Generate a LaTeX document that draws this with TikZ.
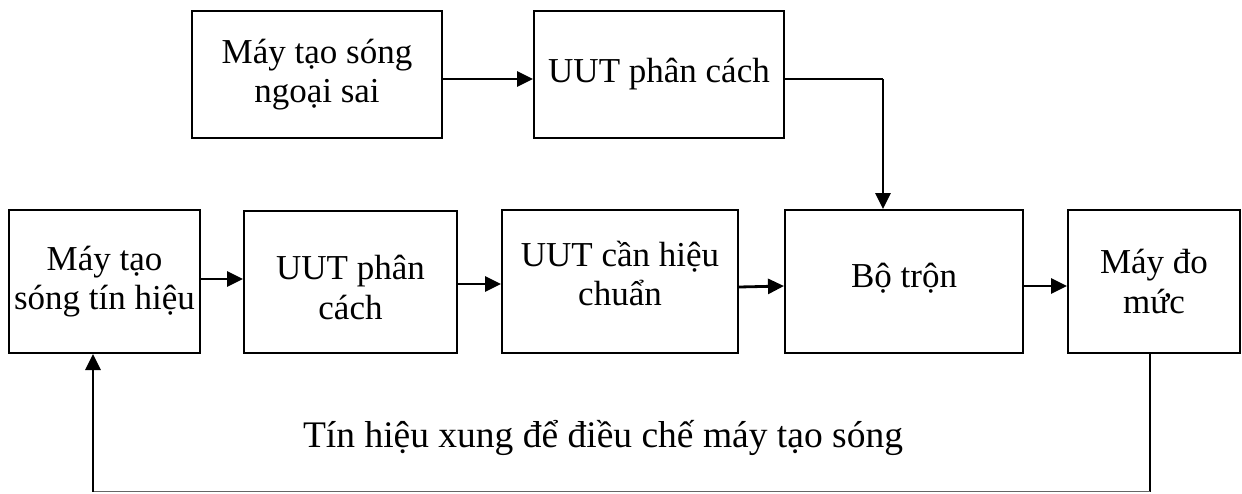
\documentclass[tikz,border=0pt]{standalone}
\usepackage{fontspec}
\setmainfont{Liberation Serif}
\usetikzlibrary{arrows.meta}
\tikzset{
  box/.style={draw=black, line width=2pt, align=center, inner sep=0pt,
    font=\fontsize{35}{39.5}\selectfont},
  boxtext/.style={align=center, inner sep=0pt, font=\fontsize{35}{39.5}\selectfont},
  arr/.style={line width=2.8pt, -{Triangle[length=16pt,width=15pt]}},
  wire/.style={line width=1.8pt},
  lbl/.style={font=\fontsize{37.5}{42}\selectfont, inner sep=0pt}
}
\begin{document}
\begin{tikzpicture}[x=1pt,y=-1pt]
\useasboundingbox (0,0) rectangle (1242,493);
% upper row
\node[box, minimum width=250pt, minimum height=127pt] (lo) at (317,74.5) {Máy tạo sóng\\ngoại sai};
\node[box, minimum width=250pt, minimum height=127pt] (iso1) at (659,74.5) {UUT phân cách};
% lower row
\node[box, minimum width=191pt, minimum height=143pt] (gen) at (104.5,281.5) {Máy tạo\\sóng tín hiệu};
\node[box, minimum width=213pt, minimum height=142pt,
  label={[boxtext, yshift=-6pt]center:UUT phân\\cách}] (iso2) at (350.5,281.5) {};
\node[box, minimum width=236pt, minimum height=143pt,
  label={[boxtext, yshift=8pt]center:UUT cần hiệu\\chuẩn}] (dut) at (620,281.5) {};
\node[box, minimum width=238pt, minimum height=143pt,
  label={[boxtext, yshift=3pt]center:Bộ trộn}] (mix) at (904,281.5) {};
\node[box, minimum width=172pt, minimum height=143pt] (meter) at (1154,281.5) {Máy đo\\mức};
\node[lbl] (sig) at (603,438) {Tín hiệu xung để điều chế máy tạo sóng};
% junction points
\coordinate (k) at (883,79);
\coordinate (r) at (1150,491.5);
\coordinate (l) at (93,491.5);
% connectors
\draw[arr] ([yshift=-4.5pt]lo.east) -- ([yshift=-4.5pt]iso1.west);
\draw[wire] ([yshift=-4.5pt]iso1.east) -- (k);
\draw[arr] (k) -- (k |- mix.north);
\draw[arr] ([yshift=2.5pt]gen.east) -- ([yshift=2.5pt]iso2.west);
\draw[arr] ([yshift=-2.5pt]iso2.east) -- ([yshift=-2.5pt]dut.west);
\draw[arr] ([yshift=-5.5pt]dut.east) -- ([yshift=-4.5pt]mix.west);
\draw[arr] ([yshift=-4.5pt]mix.east) -- ([yshift=-4.5pt]meter.west);
\draw[line width=1.6pt] (r |- meter.south) -- (r);
\draw[line width=1.4pt, black!60] (r) -- (l);
\draw[arr] (l) -- (l |- gen.south);
\end{tikzpicture}
\end{document}
